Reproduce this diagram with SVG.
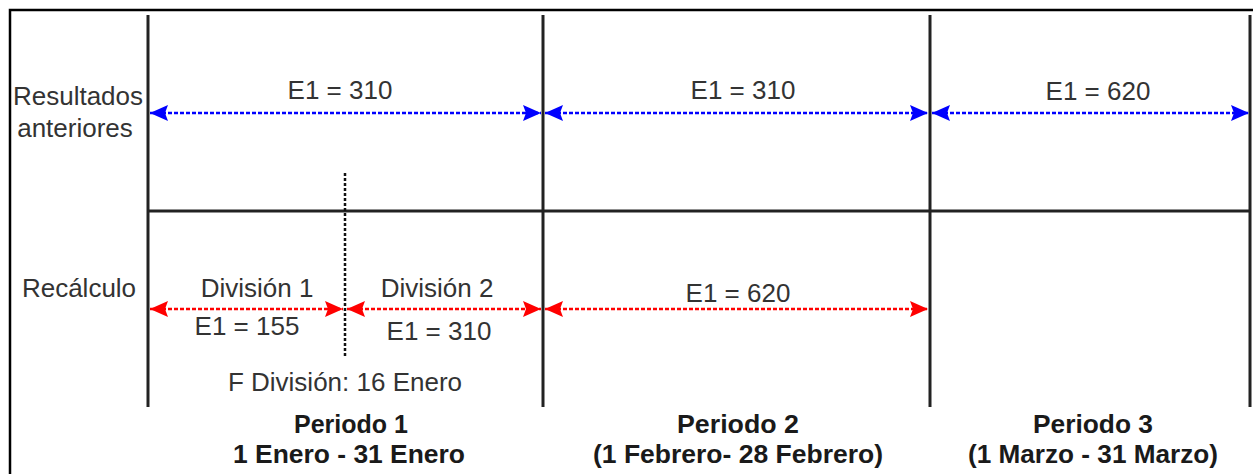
<svg xmlns="http://www.w3.org/2000/svg" width="1253" height="474" viewBox="0 0 1253 474">
<style>
.t{font-family:"Liberation Sans",Arial,sans-serif;font-size:26px;fill:#333;text-anchor:middle}
.b{font-family:"Liberation Sans",Arial,sans-serif;font-size:26px;font-weight:bold;fill:#1a1a1a;text-anchor:middle}
.grid{stroke:#222;stroke-width:3;fill:none}
.blue{stroke:#0000ff;stroke-width:2.5;stroke-dasharray:4 2;fill:none}
.red{stroke:#ff0000;stroke-width:2.5;stroke-dasharray:4 2;fill:none}
</style>
<defs>
<marker id="ab" markerUnits="userSpaceOnUse" markerWidth="20" markerHeight="18" refX="18" refY="8" orient="auto-start-reverse"><path d="M0,0 L18,8 L0,16 L3,8 z" fill="#0000ff"/></marker>
<marker id="ar" markerUnits="userSpaceOnUse" markerWidth="20" markerHeight="18" refX="18" refY="8" orient="auto-start-reverse"><path d="M0,0 L18,8 L0,16 L3,8 z" fill="#ff0000"/></marker>
</defs>
<rect x="0" y="0" width="1253" height="474" fill="#fff"/>
<rect x="10" y="10" width="1262" height="490" fill="none" stroke="#000" stroke-width="2.5"/>
<g id="grid">
<line class="grid" x1="148" y1="15" x2="148" y2="407"/>
<line class="grid" x1="543" y1="15" x2="543" y2="407"/>
<line class="grid" x1="930" y1="15" x2="930" y2="407"/>
<line class="grid" x1="1250" y1="15" x2="1250" y2="407"/>
<line class="grid" x1="148" y1="211" x2="1250" y2="211" stroke-width="2.5"/>
<line x1="345" y1="173" x2="345" y2="358" stroke="#111" stroke-width="2.5" stroke-dasharray="3 2"/>
</g>
<g id="labels">
<text class="t" x="78" y="105">Resultados</text>
<text class="t" x="75" y="137">anteriores</text>
<text class="t" x="79" y="297">Recálculo</text>
</g>
<g id="connectors">
<line class="blue" x1="150" y1="113" x2="541" y2="113" marker-start="url(#ab)" marker-end="url(#ab)"/>
<line class="blue" x1="545" y1="113" x2="928" y2="113" marker-start="url(#ab)" marker-end="url(#ab)"/>
<line class="blue" x1="932" y1="113" x2="1249" y2="113" marker-start="url(#ab)" marker-end="url(#ab)"/>
<line class="red" x1="150" y1="309" x2="343" y2="309" marker-start="url(#ar)" marker-end="url(#ar)"/>
<line class="red" x1="347" y1="309" x2="541" y2="309" marker-start="url(#ar)" marker-end="url(#ar)"/>
<line class="red" x1="545" y1="309" x2="928" y2="309" marker-end="url(#ar)" marker-start="url(#ar)"/>
</g>
<g id="period1">
<text class="t" x="340" y="99">E1 = 310</text>
<text class="t" x="257" y="297">División 1</text>
<text class="t" x="247" y="335">E1 = 155</text>
<text class="t" x="437" y="297">División 2</text>
<text class="t" x="439" y="340">E1 = 310</text>
<text class="t" x="345" y="391">F División: 16 Enero</text>
<text class="b" x="351" y="433" textLength="114" lengthAdjust="spacingAndGlyphs">Periodo 1</text>
<text class="b" x="349" y="463" textLength="232" lengthAdjust="spacingAndGlyphs">1 Enero - 31 Enero</text>
</g>
<g id="period2">
<text class="t" x="743" y="99">E1 = 310</text>
<text class="t" x="738" y="302">E1 = 620</text>
<text class="b" x="738" y="433" textLength="122" lengthAdjust="spacingAndGlyphs">Periodo 2</text>
<text class="b" x="738" y="463" textLength="290" lengthAdjust="spacingAndGlyphs">(1 Febrero- 28 Febrero)</text>
</g>
<g id="period3">
<text class="t" x="1098" y="100">E1 = 620</text>
<text class="b" x="1093" y="433" textLength="120" lengthAdjust="spacingAndGlyphs">Periodo 3</text>
<text class="b" x="1093" y="463" textLength="250" lengthAdjust="spacingAndGlyphs">(1 Marzo - 31 Marzo)</text>
</g>
</svg>
